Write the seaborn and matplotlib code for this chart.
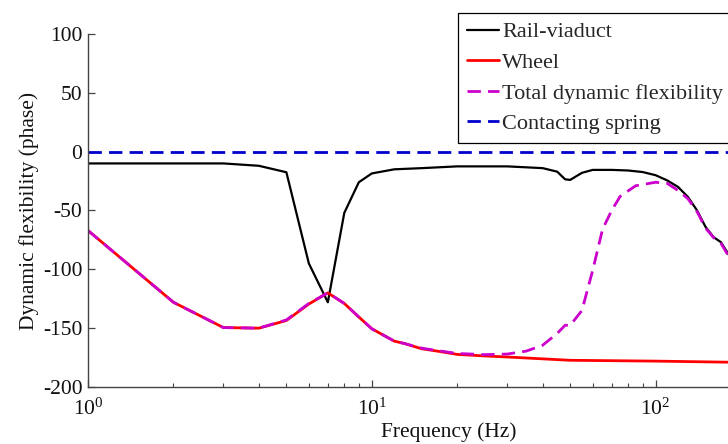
import matplotlib
matplotlib.use('Agg')
import matplotlib.pyplot as plt
import seaborn as sns
from matplotlib.ticker import LogLocator, NullFormatter

# Rail-viaduct phase (deg) vs frequency (Hz)
freq_rail = [1, 2, 3, 4, 5, 6, 7, 8, 9, 10, 12, 15, 20, 30, 40, 45, 48, 50, 55, 60,
             70, 80, 90, 100, 110, 120, 130, 140, 150, 160, 170, 180, 190]
phase_rail = [-10, -10, -10, -12, -17.5, -95, -128, -52, -26, -18.5, -15, -14, -12.5, -12.5,
              -14, -17, -23.5, -24, -18, -15.5, -15.5, -16, -17.3, -20, -24.5, -30, -38.5,
              -50, -64, -72.6, -77, -86.5, -97]

# Wheel phase
freq_wheel = [1, 2, 3, 4, 5, 6, 7, 8, 9, 10, 11, 12, 13, 15, 17, 20, 25, 30, 50, 100, 190]
phase_wheel = [-67, -128, -149.5, -150, -143.5, -129.5, -120, -129, -140.5, -150.5, -156,
               -161, -163, -167.5, -169.5, -172.3, -173.6, -174.5, -177.3, -178, -179]

# Total dynamic flexibility phase
freq_total = [1, 2, 3, 4, 5, 6, 7, 8, 9, 10, 11, 12, 13, 15, 17, 20, 25, 30, 35, 40, 45,
              48, 50, 55, 60, 65, 70, 75, 85, 100, 110, 120, 130, 140, 150, 160, 170, 180, 190]
phase_total = [-67, -128, -149.5, -150, -143, -129, -120, -129, -140.5, -150.5, -156,
               -161, -163, -167, -169, -171.5, -172.5, -172, -169.5, -164.5, -154.5,
               -147.5, -147.6, -135, -101, -66, -50, -38, -29, -26, -27, -33, -40, -51,
               -65, -73, -78, -88, -98]

# Contacting spring phase
freq_spring = [1, 1000]
phase_spring = [0, 0]

sns.set_theme(style='ticks')
plt.rcParams['font.family'] = ['Liberation Serif', 'DejaVu Serif']
plt.rcParams['mathtext.fontset'] = 'custom'
plt.rcParams['mathtext.rm'] = 'Liberation Serif'
plt.rcParams['mathtext.it'] = 'Liberation Serif:italic'
plt.rcParams['axes.unicode_minus'] = False

W, H = 728, 444
fig = plt.figure(figsize=(W / 100, H / 100), dpi=100)
ax = fig.add_axes([88 / W, 57 / H, 722 / W, 353 / H])

sns.lineplot(x=freq_rail, y=phase_rail, ax=ax, color='black', lw=1.6,
             label='Rail-viaduct', estimator=None)
sns.lineplot(x=freq_wheel, y=phase_wheel, ax=ax, color='#ff0000', lw=2.0,
             label='Wheel', estimator=None)
sns.lineplot(x=freq_total, y=phase_total, ax=ax, color='#cc00cc', lw=2.0,
             label='Total dynamic flexibility', estimator=None)
ax.lines[-1].set_dashes((4.8, 2.6))
sns.lineplot(x=freq_spring, y=phase_spring, ax=ax, color='#0000cc', lw=2.0,
             label='Contacting spring', estimator=None)
ax.lines[-1].set_dashes((4.8, 2.6))

ax.set_xscale('log')
ax.set_xlim(1, 10 ** 2.544)
ax.set_ylim(-200, 100)
ax.set_yticks([-200, -150, -100, -50, 0, 50, 100])
ax.xaxis.set_major_locator(LogLocator(base=10))
ax.xaxis.set_minor_locator(LogLocator(base=10, subs=range(2, 10)))
ax.xaxis.set_minor_formatter(NullFormatter())

for s in ['top', 'right']:
    ax.spines[s].set_visible(False)
for s in ['left', 'bottom']:
    ax.spines[s].set_color('#444444')
    ax.spines[s].set_linewidth(1.0)

ax.tick_params(which='major', direction='in', length=5, width=0.9, color='#444444',
               labelsize=15.5, labelcolor='#111111', pad=5)
ax.tick_params(which='minor', direction='in', length=3, width=0.8, color='#444444')
ax.tick_params(axis='y', pad=4)
ax.tick_params(axis='x', pad=8)

ax.set_xlabel('Frequency (Hz)', fontsize=15.5, color='#111111')
ax.set_ylabel('Dynamic flexibility (phase)', fontsize=15.5, labelpad=3, color='#111111')
ax.xaxis.set_label_coords(0.5, -0.1)

leg = ax.legend(loc='upper left', bbox_to_anchor=(458 / W, 1 - 13 / H),
                bbox_transform=fig.transFigure, frameon=True, fancybox=False,
                edgecolor='black', framealpha=1, fontsize=16, borderaxespad=0,
                handlelength=1.45, handletextpad=0.15, labelspacing=0.45,
                borderpad=0.4)
leg.get_frame().set_linewidth(0.9)

fig.savefig('out.png', dpi=100)
